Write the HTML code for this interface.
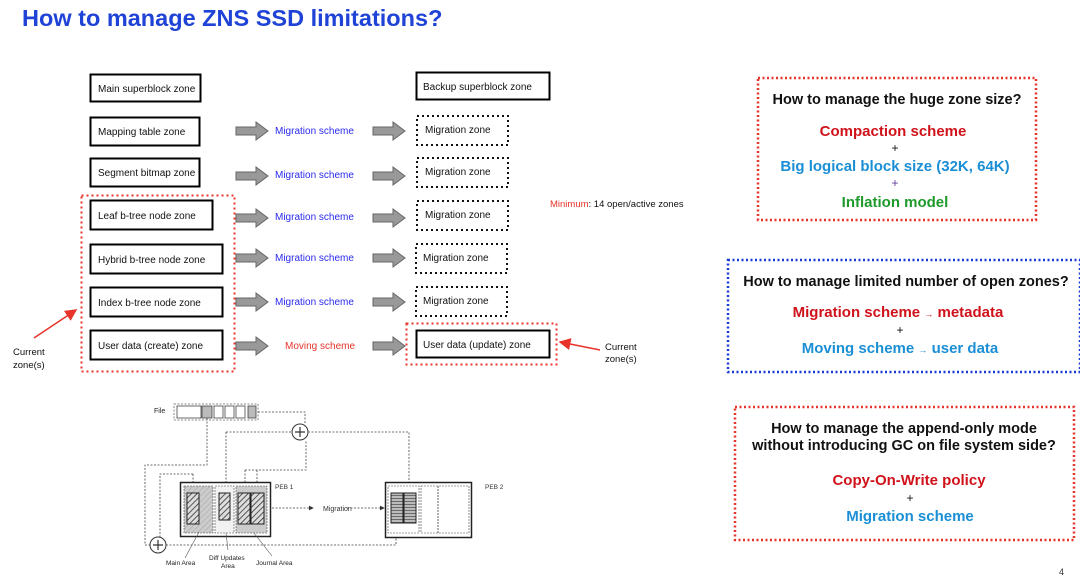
<!DOCTYPE html>
<html><head><meta charset="utf-8"><style>
html,body{margin:0;padding:0;background:#fff;}
svg{display:block;font-family:"Liberation Sans",sans-serif;}
</style></head><body>
<svg width="1080" height="577" viewBox="0 0 1080 577" xmlns="http://www.w3.org/2000/svg">
<defs>
<g id="ga"><polygon points="0,-4 20,-4 20,-9 32,0 20,9 20,4 0,4" fill="#999" stroke="#666" stroke-width="1"/></g>
<pattern id="hatch" width="4" height="4" patternUnits="userSpaceOnUse" patternTransform="rotate(45)"><rect width="4" height="4" fill="#ddd"/><line x1="0" y1="0" x2="0" y2="4" stroke="#333" stroke-width="1.6"/></pattern>
<pattern id="hatchL" width="4" height="4" patternUnits="userSpaceOnUse" patternTransform="rotate(45)"><rect width="4" height="4" fill="#ccc"/><line x1="0" y1="0" x2="0" y2="4" stroke="#aaa" stroke-width="1.2"/></pattern>
<pattern id="hstr" width="4" height="3" patternUnits="userSpaceOnUse"><rect width="4" height="3" fill="#bbb"/><line x1="0" y1="0.5" x2="4" y2="0.5" stroke="#555" stroke-width="0.8"/></pattern>
<marker id="ah" markerWidth="6" markerHeight="6" refX="5" refY="3" orient="auto"><path d="M0,0 L6,3 L0,6z" fill="#333"/></marker>
<marker id="ar" markerWidth="8" markerHeight="8" refX="7" refY="4" orient="auto"><path d="M0,0 L8,4 L0,8z" fill="#e8332a"/></marker>
</defs>
<text x="22" y="26" font-size="23.5" font-weight="bold" fill="#1f43d6">How to manage ZNS SSD limitations?</text>

<g font-size="10" fill="#111">
<rect x="90.5" y="74.5" width="110" height="27" fill="none" stroke="#000" stroke-width="2"/><text x="98" y="92">Main superblock zone</text>
<rect x="90.5" y="117.5" width="109" height="28" fill="none" stroke="#000" stroke-width="2"/><text x="98" y="135">Mapping table zone</text>
<rect x="90.5" y="158.5" width="109" height="28" fill="none" stroke="#000" stroke-width="2"/><text x="98" y="176">Segment bitmap zone</text>
<rect x="90.5" y="200.5" width="122" height="29" fill="none" stroke="#000" stroke-width="2"/><text x="98" y="219">Leaf b-tree node zone</text>
<rect x="90.5" y="244.5" width="132" height="29" fill="none" stroke="#000" stroke-width="2"/><text x="98" y="263">Hybrid b-tree node zone</text>
<rect x="90.5" y="287.5" width="132" height="29" fill="none" stroke="#000" stroke-width="2"/><text x="98" y="306">Index b-tree node zone</text>
<rect x="90.5" y="330.5" width="132" height="29" fill="none" stroke="#000" stroke-width="2"/><text x="98" y="349">User data (create) zone</text>
<rect x="81.5" y="195.5" width="153" height="176" fill="none" stroke="#e8332a" stroke-width="2" stroke-dasharray="2,3"/>
<rect x="416.5" y="72.5" width="133" height="27" fill="none" stroke="#000" stroke-width="2"/><text x="423" y="90">Backup superblock zone</text>
<g fill="none" stroke="#111" stroke-width="2" stroke-dasharray="2,3">
<rect x="417" y="116" width="91" height="29"/>
<rect x="417" y="158" width="91" height="29"/>
<rect x="417" y="201" width="91" height="29"/>
<rect x="416" y="244" width="91" height="29"/>
<rect x="416" y="287" width="91" height="29"/>
</g>
<text x="425" y="133">Migration zone</text>
<text x="425" y="175">Migration zone</text>
<text x="425" y="218">Migration zone</text>
<text x="423" y="261">Migration zone</text>
<text x="423" y="304">Migration zone</text>
<rect x="416.5" y="330.5" width="133" height="27" fill="none" stroke="#000" stroke-width="2"/><text x="423" y="348">User data (update) zone</text>
<rect x="406.5" y="323.5" width="150" height="41" fill="none" stroke="#e8332a" stroke-width="2" stroke-dasharray="2,3"/>
</g>
<g>
<use href="#ga" x="236" y="131"/><use href="#ga" x="373" y="131"/>
<use href="#ga" x="236" y="176"/><use href="#ga" x="373" y="176"/>
<use href="#ga" x="236" y="218"/><use href="#ga" x="373" y="218"/>
<use href="#ga" x="236" y="258"/><use href="#ga" x="373" y="258"/>
<use href="#ga" x="236" y="302"/><use href="#ga" x="373" y="302"/>
<use href="#ga" x="236" y="346"/><use href="#ga" x="373" y="346"/>
</g>
<g font-size="10" fill="#2a2af0">
<text x="275" y="134">Migration scheme</text>
<text x="275" y="178">Migration scheme</text>
<text x="275" y="220">Migration scheme</text>
<text x="275" y="261">Migration scheme</text>
<text x="275" y="305">Migration scheme</text>
</g>
<text x="285" y="349" font-size="10" fill="#e8332a">Moving scheme</text>
<text x="550" y="207" font-size="9.5" fill="#111"><tspan fill="#e8332a">Minimum</tspan>: 14 open/active zones</text>
<text x="13" y="355" font-size="9.5" fill="#111">Current</text><text x="13" y="368" font-size="9.5" fill="#111">zone(s)</text>
<line x1="34" y1="338" x2="76" y2="310" stroke="#e8332a" stroke-width="1.5" marker-end="url(#ar)"/>
<text x="605" y="350" font-size="9.5" fill="#111">Current</text><text x="605" y="362" font-size="9.5" fill="#111">zone(s)</text>
<line x1="600" y1="350" x2="560" y2="342" stroke="#e8332a" stroke-width="1.5" marker-end="url(#ar)"/>

<!-- bottom diagram -->
<g stroke="#444" stroke-width="0.8" fill="none" stroke-dasharray="2,1.5">
<text x="154" y="413" font-size="7" fill="#222" stroke="none">File</text>
<rect x="174" y="404" width="84" height="16" stroke="#666"/>
<rect x="177" y="406" width="24" height="12" stroke-dasharray="none" fill="#fff"/>
<rect x="202" y="406" width="10" height="12" stroke-dasharray="none" fill="#bbb"/>
<rect x="214" y="406" width="9" height="12" stroke-dasharray="none" fill="#fff"/>
<rect x="225" y="406" width="9" height="12" stroke-dasharray="none" fill="#fff"/>
<rect x="236" y="406" width="9" height="12" stroke-dasharray="none" fill="#fff"/>
<rect x="248" y="406" width="8" height="12" stroke-dasharray="none" fill="#bbb"/>
<polyline points="258,412 305,412 305,423"/>
<polyline points="207,418 207,465 145,465 145,545 150,545"/>
<polyline points="226,432 292,432"/>
<polyline points="226,432 226,485"/>
<polyline points="308,432 409,432 409,488"/>
<polyline points="245,470 306,470 306,440"/>
<polyline points="245,470 245,485"/>
<polyline points="257,470 257,485"/>
<polyline points="193,474 160,474 160,537"/>
<polyline points="193,474 193,485"/>
<polyline points="166,545 396,545 396,532"/>
<polyline points="272,508 313,508" marker-end="url(#ah)"/>
<polyline points="347,508 384,508" marker-end="url(#ah)"/>
</g>
<circle cx="300" cy="432" r="8" fill="#fff" stroke="#333"/>
<path d="M295,432h10M300,427v10" stroke="#333" stroke-width="1.2"/>
<circle cx="158" cy="545" r="8" fill="#fff" stroke="#333"/>
<path d="M153,545h10M158,540v10" stroke="#333" stroke-width="1.2"/>
<rect x="180.5" y="482.5" width="90" height="54" fill="#fff" stroke="#222" stroke-width="1.5"/>
<rect x="184" y="486" width="29" height="47" fill="url(#hatchL)" stroke="#444" stroke-width="0.6" stroke-dasharray="2,1"/>
<rect x="215" y="486" width="19" height="47" fill="#f2f2f2" stroke="#444" stroke-width="0.6" stroke-dasharray="2,1"/>
<rect x="236" y="486" width="31" height="47" fill="#ccc" stroke="#444" stroke-width="0.6" stroke-dasharray="2,1"/>
<rect x="187" y="493" width="12" height="31" fill="url(#hatch)" stroke="#222"/>
<rect x="219" y="493" width="11" height="27" fill="url(#hatch)" stroke="#222"/>
<rect x="238" y="493" width="12" height="31" fill="url(#hatch)" stroke="#222"/>
<rect x="251" y="493" width="13" height="31" fill="url(#hatch)" stroke="#222"/>
<text x="275" y="489" font-size="6.5" fill="#333">PEB 1</text>
<text x="323" y="511" font-size="7" fill="#333">Migration</text>
<rect x="385.5" y="482.5" width="86" height="55" fill="#fff" stroke="#222" stroke-width="1.5"/>
<rect x="388" y="486" width="31" height="47" fill="none" stroke="#444" stroke-width="0.6" stroke-dasharray="2,1"/>
<rect x="421" y="486" width="48" height="47" fill="none" stroke="#444" stroke-width="0.6" stroke-dasharray="2,1"/>
<line x1="438" y1="486" x2="438" y2="533" stroke="#666" stroke-dasharray="2,1"/>
<rect x="391" y="493" width="12" height="30" fill="url(#hstr)" stroke="#222"/>
<rect x="404" y="493" width="12" height="30" fill="url(#hstr)" stroke="#222"/>
<text x="485" y="489" font-size="6.5" fill="#333">PEB 2</text>
<g stroke="#555" stroke-width="0.6"><line x1="185" y1="558" x2="199" y2="532"/><line x1="228" y1="550" x2="226" y2="533"/><line x1="272" y1="556" x2="254" y2="533"/></g>
<g font-size="6.5" fill="#222">
<text x="166" y="565">Main Area</text>
<text x="209" y="560">Diff Updates</text><text x="221" y="568">Area</text>
<text x="256" y="565">Journal Area</text>
</g>

<!-- right panels -->
<rect x="758" y="78" width="278" height="142" fill="none" stroke="#e8332a" stroke-width="2.5" stroke-dasharray="2,2.5"/>
<g text-anchor="middle" font-weight="bold">
<text x="897" y="104" font-size="14.5" fill="#111">How to manage the huge zone size?</text>
<text x="893" y="136" font-size="15" fill="#d0121b">Compaction scheme</text>
<text x="895" y="152" font-size="12" font-weight="normal" fill="#111">+</text>
<text x="895" y="171" font-size="15" fill="#1b8fd6">Big logical block size (32K, 64K)</text>
<text x="895" y="187" font-size="12" font-weight="normal" fill="#6a3a9a">+</text>
<text x="895" y="207" font-size="15" fill="#1e9a2a">Inflation model</text>

<text x="906" y="286" font-size="14.5" fill="#111">How to manage limited number of open zones?</text>
<text x="898" y="317" font-size="15" fill="#d0121b">Migration scheme <tspan font-size="9">→</tspan> metadata</text>
<text x="900" y="334" font-size="12" font-weight="normal" fill="#111">+</text>
<text x="900" y="353" font-size="15" fill="#1b8fd6">Moving scheme <tspan font-size="9">→</tspan> user data</text>

<text x="904" y="433" font-size="14.5" fill="#111">How to manage the append-only mode</text>
<text x="904" y="450" font-size="14.5" fill="#111">without introducing GC on file system side?</text>
<text x="909" y="485" font-size="15" fill="#d0121b">Copy-On-Write policy</text>
<text x="910" y="502" font-size="12" font-weight="normal" fill="#111">+</text>
<text x="910" y="521" font-size="15" fill="#1b8fd6">Migration scheme</text>
</g>
<rect x="728" y="260" width="352" height="112" fill="none" stroke="#1a3ad6" stroke-width="2.5" stroke-dasharray="2,2.5"/>
<rect x="735" y="407" width="339" height="133" fill="none" stroke="#e8332a" stroke-width="2.5" stroke-dasharray="2,2.5"/>
<text x="1059" y="575" font-size="9" fill="#333">4</text>
</svg>
</body></html>
